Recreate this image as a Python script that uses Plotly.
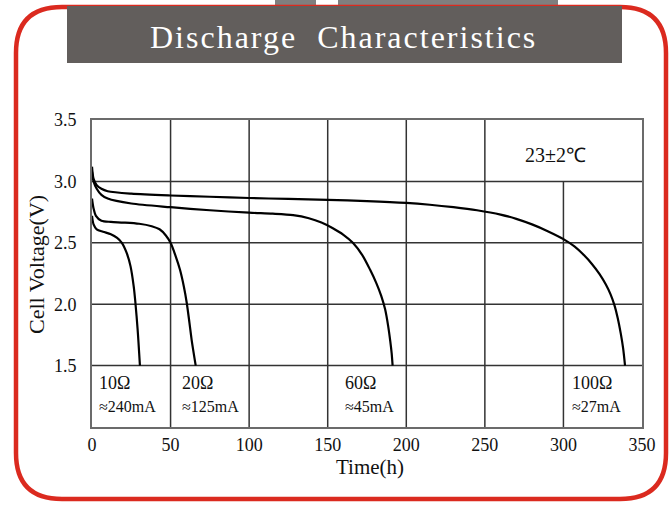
import plotly.graph_objects as go

# ---- data ----
t_10 = [0, 1, 3, 7, 12, 16, 19, 22, 24.5, 26.5, 27.5, 29, 30.5]
v_10 = [2.72, 2.65, 2.61, 2.59, 2.57, 2.54, 2.50, 2.42, 2.31, 2.15, 2.03, 1.80, 1.50]

t_20 = [0, 1, 2.5, 6, 12, 20, 30, 38, 43, 47, 50, 53, 56, 58.5, 60.3, 62, 63.4, 66]
v_20 = [2.86, 2.78, 2.72, 2.68, 2.67, 2.665, 2.655, 2.635, 2.61, 2.56, 2.50, 2.40, 2.28, 2.14, 2.01, 1.85, 1.71, 1.50]

t_60 = [0, 1, 3, 6, 10, 25, 50, 75, 100, 115, 128, 138, 146, 153, 160, 166, 172, 177, 181, 184, 186.5,
        188.5, 189.8, 190.7, 191.3]
v_60 = [3.08, 3.00, 2.94, 2.89, 2.86, 2.82, 2.79, 2.765, 2.745, 2.737, 2.725, 2.70, 2.665, 2.62, 2.565,
        2.50, 2.40, 2.28, 2.17, 2.07, 1.96, 1.82, 1.70, 1.60, 1.50]

t_100 = [0, 1, 3, 6, 10, 25, 50, 75, 100, 125, 150, 175, 200, 215, 230, 245, 260, 270, 280, 290, 300,
         307, 313, 318, 323, 327, 330, 332.5, 334.5, 336.5, 338, 339.2]
v_100 = [3.12, 3.02, 2.97, 2.94, 2.92, 2.90, 2.885, 2.875, 2.865, 2.857, 2.85, 2.84, 2.825, 2.81, 2.79, 2.765,
         2.73, 2.695, 2.65, 2.595, 2.53, 2.47, 2.40, 2.33, 2.245, 2.16, 2.08, 1.99, 1.89, 1.76, 1.64, 1.50]

series_names = ["10Ω", "20Ω", "60Ω", "100Ω"]
series_currents = ["≈240mA", "≈125mA", "≈45mA", "≈27mA"]
label_times = [3, 56, 160, 304]

x_ticks = [0, 50, 100, 150, 200, 250, 300, 350]
y_ticks = [1.5, 2.0, 2.5, 3.0, 3.5]
y_tick_text = ["1.5", "2.0", "2.5", "3.0", "3.5"]

title_text = "Discharge  Characteristics"
temp_text = "23±2℃"

# ---- layout geometry ----
W, H = 669, 506
PL, PR, PT, PB = 92, 642, 120, 427  # plot area in pixels


def px(x):
    return (x - PL) / (PR - PL)


def py(y):
    return (PB - y) / (PB - PT)


fig = go.Figure()
curves = [(t_10, v_10), (t_20, v_20), (t_60, v_60), (t_100, v_100)]
for (tt, vv), nm in zip(curves, series_names):
    fig.add_trace(go.Scatter(x=tt, y=vv, mode="lines", name=nm,
                             line=dict(color="#000000", width=2.2, shape="spline", smoothing=0.8),
                             showlegend=False, hoverinfo="skip"))

shapes = []
# grid lines
for v in y_ticks[:-1]:
    shapes.append(dict(type="line", xref="x", yref="y", x0=0, x1=350, y0=v, y1=v,
                       line=dict(color="#333333", width=1.5), layer="below"))
for t in x_ticks[1:-1]:
    top = 3.0 if t == 300 else 3.5
    shapes.append(dict(type="line", xref="x", yref="y", x0=t, x1=t, y0=1.0, y1=top,
                       line=dict(color="#333333", width=1.5), layer="below"))

# decorative frame: gray tabs, red rounded border, title banner
shapes.append(dict(type="rect", xref="paper", yref="paper", x0=px(275), x1=px(316), y0=py(0), y1=py(6),
                   fillcolor="#7f7f7f", line=dict(width=0), layer="below"))
shapes.append(dict(type="rect", xref="paper", yref="paper", x0=px(338), x1=px(558), y0=py(0), y1=py(6),
                   fillcolor="#7f7f7f", line=dict(width=0), layer="below"))

L, T, R, B, r = 16, 7, 666, 499, 46
path = (f"M {px(L)},{py(T + r)} Q {px(L)},{py(T)} {px(L + r)},{py(T)} "
        f"L {px(R - r)},{py(T)} Q {px(R)},{py(T)} {px(R)},{py(T + r)} "
        f"L {px(R)},{py(B - r)} Q {px(R)},{py(B)} {px(R - r)},{py(B)} "
        f"L {px(L + r)},{py(B)} Q {px(L)},{py(B)} {px(L)},{py(B - r)} Z")
shapes.append(dict(type="path", xref="paper", yref="paper", path=path,
                   line=dict(color="#db2a1f", width=4.5), layer="below"))
shapes.append(dict(type="rect", xref="paper", yref="paper", x0=px(67), x1=px(622), y0=py(6), y1=py(63),
                   fillcolor="#625e5c", line=dict(width=0), layer="below"))

annotations = [
    dict(xref="paper", yref="paper", x=px(343), y=py(37), text=title_text, showarrow=False,
         font=dict(family="Liberation Serif", size=32, color="#ffffff"), xanchor="center", yanchor="middle"),
    dict(xref="x", yref="y", x=295, y=3.215, text=temp_text, showarrow=False,
         font=dict(family="Liberation Serif", size=20, color="#111111"), xanchor="center", yanchor="middle"),
    dict(xref="paper", yref="paper", x=px(370), y=py(467), text="Time(h)", showarrow=False,
         font=dict(family="Liberation Serif", size=21, color="#111111"), xanchor="center", yanchor="middle"),
    dict(xref="paper", yref="paper", x=px(36), y=py(265), text="Cell Voltage(V)", showarrow=False, textangle=-90,
         font=dict(family="Liberation Serif", size=22, color="#111111"), xanchor="center", yanchor="middle"),
]
for t, nm, cur in zip(label_times, series_names, series_currents):
    annotations.append(dict(xref="x", yref="y", x=t, y=1.36, text=nm, showarrow=False, xanchor="left",
                            yanchor="middle", font=dict(family="Liberation Serif", size=18, color="#111111")))
    annotations.append(dict(xref="x", yref="y", x=t, y=1.17, text=cur, showarrow=False, xanchor="left",
                            yanchor="middle", font=dict(family="Liberation Serif", size=16, color="#111111")))

fig.update_layout(
    width=W, height=H,
    margin=dict(l=PL, r=W - PR, t=PT, b=H - PB, pad=0),
    paper_bgcolor="#ffffff", plot_bgcolor="#ffffff",
    shapes=shapes, annotations=annotations,
    font=dict(family="Liberation Serif", color="#111111"),
    xaxis=dict(range=[0, 350], tickvals=x_ticks, showgrid=False, zeroline=False,
               showline=True, mirror=True, linecolor="#6b6b6b", linewidth=2,
               ticks="", ticklabelstandoff=0, tickfont=dict(size=18, family="Liberation Serif", color="#111111")),
    yaxis=dict(range=[1.0, 3.5], tickvals=y_ticks, ticktext=y_tick_text, showgrid=False, zeroline=False,
               showline=True, mirror=True, linecolor="#6b6b6b", linewidth=2,
               ticks="", ticklabelstandoff=10, tickfont=dict(size=18, family="Liberation Serif", color="#111111")),
)

post = ("document.body.style.margin='0px';document.body.style.overflow='hidden';"
        "document.querySelectorAll('text.annotation-text').forEach(function(e){"
        "if(e.textContent.indexOf('Discharge')>=0){e.style.letterSpacing='2px';}});")
fig.write_html("out.html", post_script=post, config={"displayModeBar": False})
